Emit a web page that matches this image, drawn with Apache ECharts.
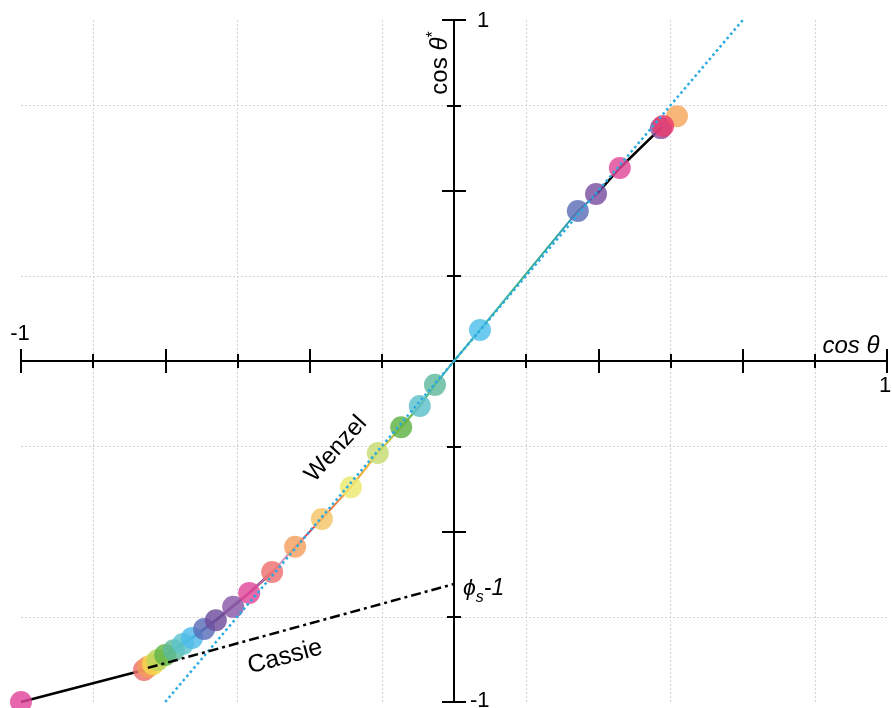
<!DOCTYPE html>
<html><head><meta charset="utf-8">
<script src="https://cdn.jsdelivr.net/npm/echarts@6/dist/echarts.min.js"></script>
<style>html,body{margin:0;padding:0;background:#fff}#c{width:892px;height:708px}</style>
</head><body><div id="c"></div>
<script>
// ---- data ----
const pointX = [-1.000, -0.716, -0.707, -0.695, -0.684, -0.667, -0.647, -0.626, -0.605, -0.577, -0.550, -0.510, -0.473, -0.420, -0.367, -0.305, -0.238, -0.176, -0.122, -0.079, -0.044, 0.060, 0.286, 0.328, 0.383, 0.478, 0.515, 0.483];
const pointY = [-1.000, -0.906, -0.897, -0.889, -0.877, -0.862, -0.848, -0.830, -0.812, -0.786, -0.760, -0.721, -0.680, -0.619, -0.545, -0.463, -0.370, -0.270, -0.194, -0.132, -0.070, 0.091, 0.440, 0.490, 0.566, 0.683, 0.718, 0.689];
const pointColors = ['#e0459b', '#ee6e6e', '#f39c5a', '#f3d84e', '#b9d65c', '#62b446', '#5cbb9a', '#5cc4cc', '#4dbbea', '#5a6db8', '#6e4e9e', '#8a59a8', '#e0489a', '#ef7070', '#f4a060', '#f5c468', '#ece96f', '#c6dc72', '#5fb244', '#5bc0ca', '#5fb89c', '#4cbfea', '#5d6fb6', '#7a4f9f', '#e0489a', '#8a4fa0', '#f7a75c', '#ea3a6b'];

const fitLowX = [-1.000, -0.716, -0.667, -0.605, -0.550, -0.473, -0.420];
const fitLowY = [-1.000, -0.906, -0.862, -0.812, -0.760, -0.680, -0.619];
const fitMidX = [-0.716, -0.667, -0.605, -0.550, -0.473, -0.420, -0.367, -0.305, -0.238, -0.176, -0.122, -0.079, -0.044, 0.000, 0.060, 0.286, 0.330];
const fitMidY = [-0.906, -0.862, -0.812, -0.760, -0.680, -0.619, -0.545, -0.463, -0.370, -0.270, -0.194, -0.132, -0.070, 0.000, 0.091, 0.440, 0.490];
const fitHighX = [0.330, 0.383, 0.480];
const fitHighY = [0.490, 0.566, 0.686];

const wenzelX = [-0.667, 0.667];
const wenzelY = [-1.000, 1.000];
const cassieX = [-0.707, 0.000];
const cassieY = [-0.900, -0.654];

const xEndValues = [-1, 1];
const xEndLabels = ['-1', '1'];
const yEndValues = [-1, 1];
const yEndLabels = ['-1', '1'];

// ---- chart ----
const FONT = 'Liberation Sans, Arial, Helvetica, sans-serif';
const zip = (xs, ys) => xs.map((x, i) => [x, ys[i]]);
const chart = echarts.init(document.getElementById('c'), null, {renderer: 'canvas'});

function makeAxis(opts) {
  return Object.assign({
    type: 'value', min: -1, max: 1,
    axisLine: {show: true, onZero: true, onZeroAxisIndex: 0, lineStyle: {color: '#000', width: 2}},
    axisTick: {show: true, inside: opts.inside, length: 12, lineStyle: {color: '#000', width: 2}},
    minorTick: {show: true, splitNumber: 2, length: 7, lineStyle: {color: '#000', width: 2}},
    splitLine: {show: false},
    minorSplitLine: {show: !!opts.grid, lineStyle: {color: '#d4d4d4', width: 1, type: [2, 2]}},
    axisLabel: {show: false}
  }, opts.extra);
}

const midColors = [
  [0.000, '#ee6e6e'], [0.047, '#62b446'], [0.106, '#4dbbea'], [0.159, '#6e4e9e'],
  [0.235, '#c04aa0'], [0.302, '#d9a3cf'], [0.369, '#e8344a'], [0.445, '#f39c3a'],
  [0.522, '#f0c030'], [0.589, '#60b848'], [0.656, '#40b0b0'], [0.828, '#3cb58a'],
  [0.933, '#30a0b0'], [1.000, '#5a6db8']
];

const option = {
  backgroundColor: '#fff',
  animation: false,
  grid: {left: 21, right: 5, top: 20, bottom: 6, containLabel: false, outerBoundsMode: 'none'},
  xAxis: [
    makeAxis({inside: true, grid: true, extra: {position: 'bottom', interval: 1 / 3}}),
    makeAxis({inside: false, grid: false, extra: {position: 'bottom', interval: 1 / 3}})
  ],
  yAxis: [
    makeAxis({inside: false, grid: true, extra: {position: 'left', interval: 0.5}}),
    makeAxis({inside: true, grid: false, extra: {position: 'left', interval: 0.5}})
  ],
  series: [
    {type: 'line', name: 'fit-low', data: zip(fitLowX, fitLowY), symbol: 'none', z: 2,
      lineStyle: {color: '#000', width: 2.5}},
    {type: 'line', name: 'fit-mid', data: zip(fitMidX, fitMidY), symbol: 'none', z: 2,
      lineStyle: {width: 2, color: new echarts.graphic.LinearGradient(0, 0, 1, 0,
        midColors.map(c => ({offset: c[0], color: c[1]})))}},
    {type: 'line', name: 'fit-high', data: zip(fitHighX, fitHighY), symbol: 'none', z: 2,
      lineStyle: {color: '#000', width: 2.5}},
    {type: 'scatter', name: 'points', data: zip(pointX, pointY), symbolSize: 22, z: 3,
      itemStyle: {opacity: 0.82, color: p => pointColors[p.dataIndex]}},
    {type: 'line', name: 'Wenzel', data: zip(wenzelX, wenzelY), symbol: 'none', z: 4,
      lineStyle: {color: '#29a9e1', width: 2.5, type: [2.5, 3]}},
    {type: 'line', name: 'Cassie', data: zip(cassieX, cassieY), symbol: 'none', z: 4,
      lineStyle: {color: '#000', width: 2.5, type: [10, 4, 3, 4]}}
  ]
};
chart.setOption(option);

// tick end labels placed from the axis scales
const px = v => chart.convertToPixel({gridIndex: 0}, v);
const xm = px([xEndValues[0], 0]);
const xp = px([xEndValues[1], 0]);
const ym = px([0, yEndValues[0]]);
const yp = px([0, yEndValues[1]]);
const labelStyle = {font: '22px ' + FONT, fill: '#000'};

chart.setOption({
  graphic: [
    {type: 'text', x: xm[0] - 1, y: xm[1] - 27, z: 10,
      style: Object.assign({text: xEndLabels[0], align: 'center', verticalAlign: 'middle'}, labelStyle)},
    {type: 'text', x: xp[0] - 2, y: xp[1] + 25, z: 10,
      style: Object.assign({text: xEndLabels[1], align: 'center', verticalAlign: 'middle'}, labelStyle)},
    {type: 'text', x: ym[0] + 16, y: ym[1] - 1, z: 10,
      style: Object.assign({text: yEndLabels[0], align: 'left', verticalAlign: 'middle'}, labelStyle)},
    {type: 'text', x: yp[0] + 23, y: yp[1] + 1, z: 10,
      style: Object.assign({text: yEndLabels[1], align: 'left', verticalAlign: 'middle'}, labelStyle)},
    {type: 'text', x: 440, y: 63, rotation: Math.PI / 2, z: 10,
      style: {text: '{n|cos }{i|θ}{s|*}', align: 'center', verticalAlign: 'middle',
        rich: {
          n: {fontSize: 24, fontFamily: FONT, fill: '#000'},
          i: {fontSize: 24, fontFamily: FONT, fontStyle: 'italic', fill: '#000'},
          s: {fontSize: 16, fontFamily: FONT, fill: '#000', verticalAlign: 'top', lineHeight: 28}
        }}},
    {type: 'text', x: 851, y: 346, z: 10,
      style: {text: 'cos θ', font: 'italic 24px ' + FONT, fill: '#000', align: 'center', verticalAlign: 'middle'}},
    {type: 'text', x: 336, y: 449, rotation: 48 * Math.PI / 180, z: 10,
      style: {text: 'Wenzel', font: '24px ' + FONT, fill: '#000', align: 'center', verticalAlign: 'middle'}},
    {type: 'text', x: 285, y: 657, rotation: 15 * Math.PI / 180, z: 10,
      style: {text: 'Cassie', font: '25px ' + FONT, fill: '#000', align: 'center', verticalAlign: 'middle'}},
    {type: 'text', x: 463, y: 589, z: 10,
      style: {text: '{i|ϕ}{s|s}{i|-1}', align: 'left', verticalAlign: 'middle',
        rich: {
          i: {fontSize: 23, fontFamily: FONT, fontStyle: 'italic', fill: '#000'},
          s: {fontSize: 16, fontFamily: FONT, fontStyle: 'italic', fill: '#000', verticalAlign: 'bottom', lineHeight: 34}
        }}}
  ]
});
</script>
</body></html>
